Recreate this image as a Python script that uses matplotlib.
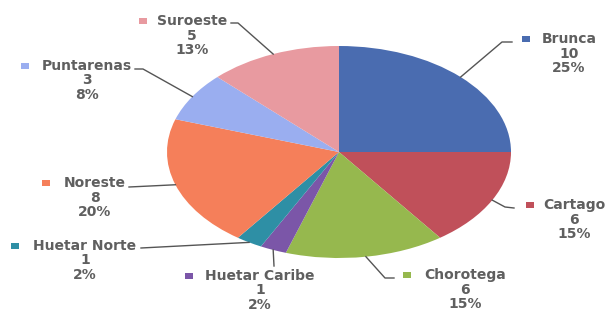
import numpy as np
import matplotlib
matplotlib.use('Agg')
import matplotlib.pyplot as plt

# regiones y cantidades
regions = ['Brunca', 'Cartago', 'Chorotega', 'Huetar Caribe', 'Huetar Norte',
           'Noreste', 'Puntarenas', 'Suroeste']
counts = [10, 6, 6, 1, 1, 8, 3, 5]
pct_labels = ['25%', '15%', '15%', '2%', '2%', '20%', '8%', '13%']
colors = ['#4a6cb0', '#c0505a', '#96b84e', '#7b56a8', '#2e8fa5',
          '#f57f5a', '#9aaef0', '#e89aa0']

# label layout in pixels: name centre x, name line y, marker x
label_pos = {
    'Brunca': (569, 39, 526),
    'Cartago': (574, 205, 530),
    'Chorotega': (465, 275, 407),
    'Huetar Caribe': (260, 276, 189),
    'Huetar Norte': (85, 246, 15),
    'Noreste': (95, 183, 46),
    'Puntarenas': (87, 66, 25),
    'Suroeste': (192, 21, 143),
}
# leader line start / elbow points in pixels
leader_pts = {
    'Brunca': [(512, 42), (502, 42)],
    'Cartago': [(514, 208), (505, 207)],
    'Chorotega': [(394, 278), (385, 278)],
    'Huetar Caribe': [(274, 266)],
    'Huetar Norte': [(141, 248)],
    'Noreste': [(129, 187), (150, 186)],
    'Puntarenas': [(135, 69), (143, 69)],
    'Suroeste': [(231, 23), (238, 23)],
}

W, H = 606, 312
fig = plt.figure(figsize=(W / 100, H / 100), dpi=100)
fig.patch.set_facecolor('white')

# elliptical pie: axes box is the ellipse bounding box
cx, cy, rx, ry = 339, 152, 172, 106
pie_ax = fig.add_axes([(cx - rx) / W, (H - cy - ry) / H, 2 * rx / W, 2 * ry / H])
wedges, _ = pie_ax.pie(counts, colors=colors, startangle=90, counterclock=False,
                       radius=1, wedgeprops=dict(linewidth=0))
pie_ax.set_aspect('auto')
pie_ax.set_xlim(-1, 1)
pie_ax.set_ylim(-1, 1)
pie_ax.axis('off')

# overlay in pixel coordinates for the labels
ax = fig.add_axes([0, 0, 1, 1], zorder=3)
ax.set_xlim(0, W)
ax.set_ylim(H, 0)
ax.axis('off')
ax.patch.set_alpha(0)

to_px = pie_ax.transData + ax.transData.inverted()
txt_color = '#5f5f5f'
line_h = 14.5

for w, name, n, pct, col in zip(wedges, regions, counts, pct_labels, colors):
    theta = np.deg2rad((w.theta1 + w.theta2) / 2)
    ex, ey = to_px.transform((np.cos(theta), np.sin(theta)))
    pts = leader_pts[name] + [(ex, ey)]
    ax.plot([p[0] for p in pts], [p[1] for p in pts], color='#555555', lw=1)

    x, y, mx = label_pos[name]
    for i, s in enumerate([name, str(n), pct]):
        ax.text(x, y + i * line_h, s, ha='center', va='center', fontsize=10,
                color=txt_color, family='DejaVu Sans', fontweight='bold')
    ax.add_patch(plt.Rectangle((mx - 4, y - 3), 8, 6, color=col, lw=0))

fig.savefig('out.png', dpi=100)
